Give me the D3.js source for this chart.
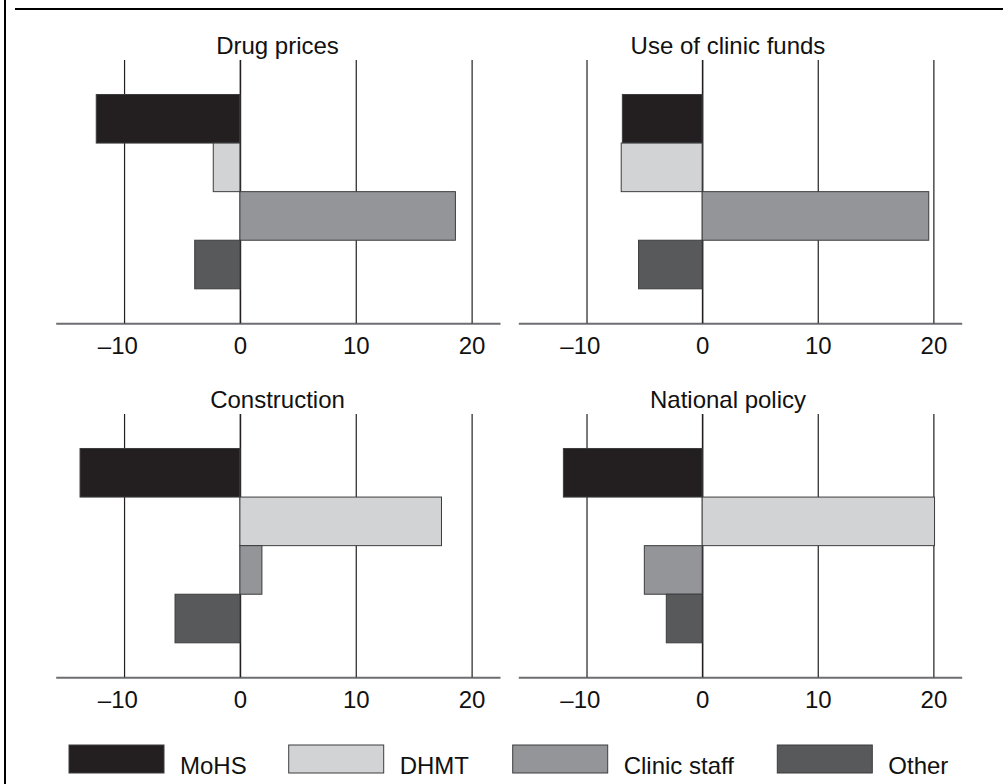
<!DOCTYPE html>
<html>
<head>
<meta charset="utf-8">
<script src="https://cdn.jsdelivr.net/npm/d3@7"></script>
<style>
  html, body { margin: 0; padding: 0; background: #fff; }
  svg { display: block; font-family: "Liberation Sans", Arial, Helvetica, sans-serif; }
</style>
</head>
<body>
<svg id="chart" width="1003" height="784"></svg>
<script>
// Who holds influence over each decision area (score per actor group)
const panels = ["Drug prices", "Use of clinic funds", "Construction", "National policy"];
const actors = ["MoHS", "DHMT", "Clinic staff", "Other"];

const drugPrices      = [-12.4, -2.3, 18.6, -3.9];
const useOfClinicFunds = [-6.9, -7.0, 19.6, -5.5];
const construction    = [-13.8, 17.4, 1.9, -5.6];
const nationalPolicy  = [-12.0, 20.1, -5.0, -3.1];

const panelValues = [drugPrices, useOfClinicFunds, construction, nationalPolicy];

const tickValues = [-10, 0, 10, 20];
const xDomain = [-15.9, 22.45];

const actorFills = ["#231f20", "#d1d3d4", "#939598", "#58595b"];

const svg = d3.select("#chart");

// Outer frame: left rule and top rule
svg.append("line").attr("x1", 5).attr("x2", 5).attr("y1", 0).attr("y2", 784)
  .attr("stroke", "#000").attr("stroke-width", 2);
svg.append("line").attr("x1", 15).attr("x2", 1003).attr("y1", 9).attr("y2", 9)
  .attr("stroke", "#000").attr("stroke-width", 2);

// 2 x 2 layout of small multiples
const cols = [
  { x0: 55.7, x1: 500, titleX: 277.5 },
  { x0: 518.3, x1: 961.7, titleX: 728 }
];
const rowTop = [60, 414];
const plotH = 263.3;
const titleOffset = -5.7;   // title baseline relative to grid top
const fontSize = 24;

const color = d3.scaleOrdinal().domain(actors).range(actorFills);

panels.forEach((name, i) => {
  const col = cols[i % 2];
  const top = rowTop[Math.floor(i / 2)];
  const bottom = top + plotH;
  const values = panelValues[i];

  const x = d3.scaleLinear().domain(xDomain).range([col.x0, col.x1]);
  const y = d3.scaleBand().domain(actors).range([top, bottom])
    .paddingInner(0).paddingOuter(0.71);

  const g = svg.append("g");

  // Title
  g.append("text")
    .attr("x", col.titleX).attr("y", top + titleOffset)
    .attr("text-anchor", "middle")
    .attr("font-size", fontSize).attr("fill", "#111")
    .text(name);

  // Axis with upward gridlines
  const axis = d3.axisBottom(x)
    .tickValues(tickValues)
    .tickSizeInner(-plotH)
    .tickSizeOuter(0)
    .tickPadding(13.7)
    .tickFormat(d => d < 0 ? "\u2013" + Math.abs(d) : String(d));

  const ag = g.append("g")
    .attr("transform", `translate(0,${bottom})`)
    .call(axis);

  ag.select(".domain").attr("stroke", "#6d6e71").attr("stroke-width", 2);
  ag.selectAll(".tick line")
    .attr("stroke", "#231f20")
    .attr("stroke-width", d => d === 0 ? 1.6 : 1.2);
  ag.selectAll(".tick text")
    .attr("font-size", fontSize)
    .attr("font-family", "Liberation Sans, Arial, sans-serif")
    .attr("fill", "#111");

  // Negative labels: keep the digits centred on the tick, minus hangs left
  ag.selectAll(".tick text").each(function(d) {
    if (d < 0) {
      const full = this.getComputedTextLength();
      const t = d3.select(this);
      const orig = t.text();
      t.text(String(Math.abs(d)));
      const digits = this.getComputedTextLength();
      t.text(orig);
      t.attr("x", -(full - digits) / 2);
    }
  });

  // Bars
  g.selectAll("rect.bar")
    .data(actors.map((a, k) => ({ actor: a, value: values[k] })))
    .join("rect")
    .attr("class", "bar")
    .attr("x", d => x(Math.min(0, d.value)))
    .attr("y", d => y(d.actor))
    .attr("width", d => Math.abs(x(d.value) - x(0)))
    .attr("height", y.bandwidth())
    .attr("fill", d => color(d.actor))
    .attr("stroke", "#3d3d3f")
    .attr("stroke-width", 1);
});

// Legend
const legendX = [69, 288.7, 512.7, 777.3];
const legendY = 745;
const swatchW = 95, swatchH = 28;

const lg = svg.append("g");
actors.forEach((a, k) => {
  lg.append("rect")
    .attr("x", legendX[k]).attr("y", legendY)
    .attr("width", swatchW).attr("height", swatchH)
    .attr("fill", color(a))
    .attr("stroke", "#3d3d3f").attr("stroke-width", 1);
  lg.append("text")
    .attr("x", legendX[k] + swatchW + 16)
    .attr("y", 774)
    .attr("font-size", fontSize).attr("fill", "#111")
    .text(a);
});
</script>
</body>
</html>
